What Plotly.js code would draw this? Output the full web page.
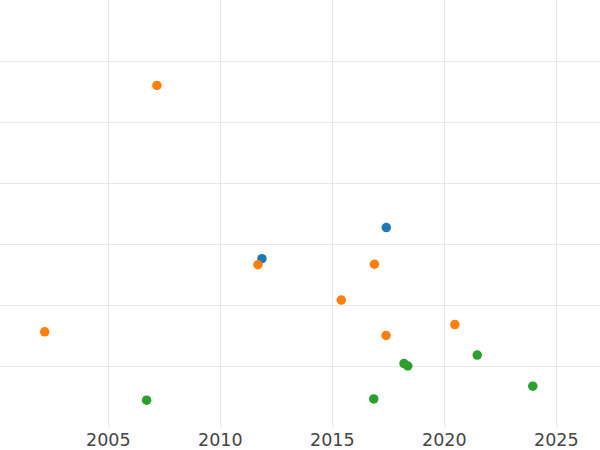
<!DOCTYPE html>
<html>
<head>
<meta charset="utf-8">
<script src="https://cdn.plot.ly/plotly-3.0.1.min.js"></script>
<style>html,body{margin:0;padding:0;background:#fff;}#chart{width:600px;height:450px;}</style>
</head>
<body>
<div id="chart"></div>
<script>
const blueX = [2011.86, 2017.41];
const blueY = [2.76, 3.27];
const orangeX = [2007.17, 2011.68, 2016.88, 2015.40, 2002.16, 2017.40, 2020.47];
const orangeY = [5.60, 2.66, 2.67, 2.08, 1.56, 1.50, 1.68];
const greenX = [2006.71, 2016.85, 2018.20, 2018.37, 2021.47, 2023.95];
const greenY = [0.44, 0.46, 1.04, 1.00, 1.18, 0.67];
const xTicks = [2005, 2010, 2015, 2020, 2025];

const mk = (x, y, c) => ({x: x, y: y, type: 'scatter', mode: 'markers', marker: {color: c, size: 9.5}, showlegend: false});

Plotly.newPlot('chart', [
  mk(blueX, blueY, '#1f77b4'),
  mk(orangeX, orangeY, '#ff7f0e'),
  mk(greenX, greenY, '#2ca02c')
], {
  width: 600, height: 450,
  margin: {l: 0, r: 0, t: 0, b: 23},
  paper_bgcolor: '#fff', plot_bgcolor: '#fff',
  font: {family: 'DejaVu Sans', size: 17.5, color: '#444'},
  xaxis: {range: [2000.165, 2026.95], tickvals: xTicks, ticktext: xTicks.map(String), showgrid: true, gridcolor: '#e8e8e8', zeroline: false, showline: false, ticks: ''},
  yaxis: {range: [0, 7], dtick: 1, showticklabels: false, showgrid: true, gridcolor: '#e8e8e8', zeroline: false, showline: false, ticks: ''}
}, {staticPlot: true});
</script>
</body>
</html>
